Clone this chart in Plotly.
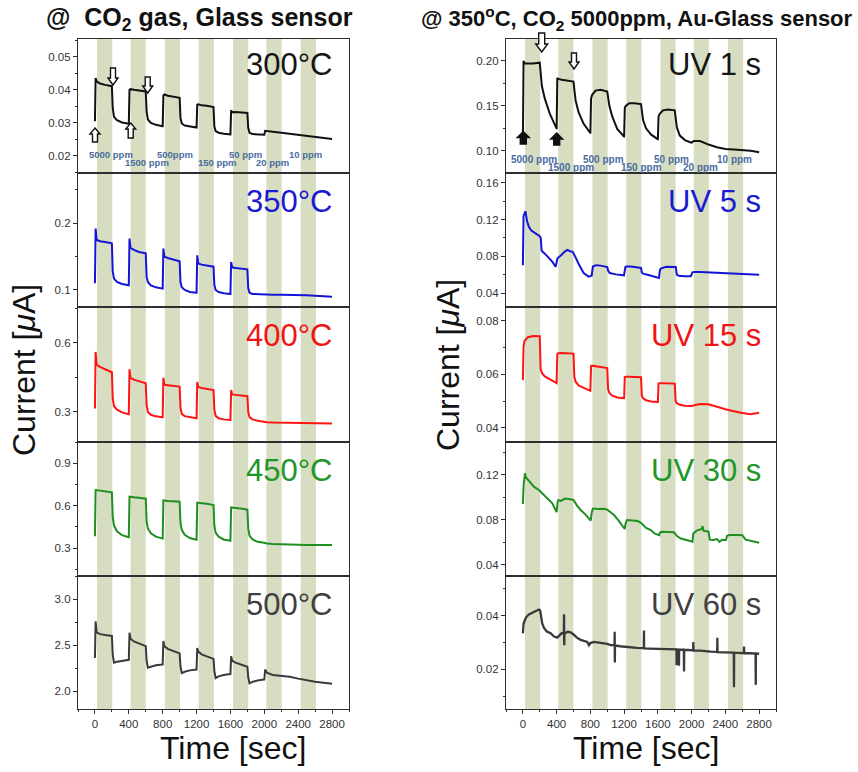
import plotly.graph_objects as go

# ---------------- data ----------------
# gas-on periods (green bands), seconds
band_start = [25, 420, 825, 1225, 1630, 2025, 2430]
band_end = [205, 600, 1005, 1405, 1810, 2205, 2610]

# shared time grid for square-wave responses (s)
t_grid = [
    0, 8, 20, 60, 120, 200, 210, 225, 260, 320, 398,
    400, 408, 420, 460, 520, 600, 610, 625, 660, 720, 798,
    800, 808, 820, 860, 920, 1000, 1010, 1025, 1060, 1120, 1198,
    1200, 1208, 1220, 1260, 1320, 1400, 1410, 1425, 1460, 1520, 1598,
    1600, 1608, 1620, 1660, 1720, 1800, 1810, 1825, 1860, 1920, 1998,
    2000, 2010, 2030, 2100, 2200, 2300, 2400, 2500, 2600, 2700, 2800]

i_300C = [
    0.0305, 0.0436, 0.0426, 0.0419, 0.0415, 0.0411, 0.0345, 0.0318, 0.0308, 0.0301, 0.0297,
    0.0297, 0.0400, 0.0402, 0.0400, 0.0398, 0.0395, 0.0335, 0.0310, 0.0300, 0.0294, 0.0290,
    0.0290, 0.0383, 0.0386, 0.0382, 0.0379, 0.0376, 0.0315, 0.0298, 0.0292, 0.0289, 0.0286,
    0.0286, 0.0355, 0.0356, 0.0353, 0.0352, 0.0348, 0.0290, 0.0275, 0.0270, 0.0267, 0.0265,
    0.0265, 0.0338, 0.0332, 0.0333, 0.0332, 0.0330, 0.0285, 0.0270, 0.0266, 0.0265, 0.0264,
    0.0264, 0.0276, 0.0275, 0.0273, 0.0270, 0.0267, 0.0264, 0.0261, 0.0258, 0.0255, 0.0251]

i_350C = [
    0.110, 0.192, 0.175, 0.173, 0.172, 0.170, 0.128, 0.117, 0.112, 0.109, 0.107,
    0.107, 0.177, 0.163, 0.160, 0.157, 0.155, 0.120, 0.112, 0.107, 0.104, 0.102,
    0.102, 0.162, 0.150, 0.148, 0.146, 0.143, 0.112, 0.104, 0.100, 0.097, 0.096,
    0.096, 0.152, 0.140, 0.138, 0.137, 0.135, 0.108, 0.100, 0.097, 0.095, 0.094,
    0.094, 0.142, 0.134, 0.133, 0.132, 0.131, 0.103, 0.096, 0.094, 0.0935, 0.093,
    0.093, 0.093, 0.093, 0.093, 0.093, 0.093, 0.0928, 0.0922, 0.0915, 0.0908, 0.090]

i_400C = [
    0.315, 0.560, 0.505, 0.495, 0.485, 0.472, 0.360, 0.325, 0.310, 0.298, 0.290,
    0.290, 0.485, 0.447, 0.440, 0.432, 0.424, 0.330, 0.300, 0.288, 0.281, 0.277,
    0.277, 0.448, 0.418, 0.416, 0.414, 0.410, 0.320, 0.292, 0.282, 0.277, 0.273,
    0.273, 0.430, 0.408, 0.404, 0.400, 0.395, 0.310, 0.283, 0.273, 0.268, 0.265,
    0.265, 0.395, 0.376, 0.374, 0.372, 0.368, 0.300, 0.278, 0.268, 0.262, 0.258,
    0.258, 0.257, 0.256, 0.254, 0.253, 0.252, 0.252, 0.252, 0.252, 0.251, 0.250]

i_450C = [
    0.385, 0.715, 0.710, 0.706, 0.703, 0.695, 0.520, 0.460, 0.420, 0.392, 0.378,
    0.378, 0.664, 0.662, 0.660, 0.657, 0.650, 0.490, 0.440, 0.405, 0.382, 0.368,
    0.368, 0.638, 0.636, 0.634, 0.632, 0.628, 0.480, 0.430, 0.395, 0.372, 0.360,
    0.360, 0.622, 0.620, 0.618, 0.614, 0.605, 0.460, 0.410, 0.382, 0.362, 0.353,
    0.353, 0.588, 0.586, 0.584, 0.580, 0.572, 0.440, 0.390, 0.362, 0.345, 0.338,
    0.338, 0.336, 0.334, 0.330, 0.327, 0.325, 0.323, 0.322, 0.322, 0.322, 0.322]

i_500C = [
    2.36, 2.76, 2.64, 2.62, 2.61, 2.60, 2.40, 2.31, 2.32, 2.33, 2.34,
    2.34, 2.635, 2.57, 2.54, 2.52, 2.49, 2.33, 2.255, 2.265, 2.28, 2.29,
    2.29, 2.545, 2.49, 2.46, 2.44, 2.41, 2.27, 2.195, 2.21, 2.225, 2.235,
    2.235, 2.47, 2.43, 2.40, 2.38, 2.35, 2.22, 2.14, 2.16, 2.175, 2.185,
    2.185, 2.38, 2.33, 2.31, 2.29, 2.265, 2.15, 2.085, 2.10, 2.115, 2.125,
    2.125, 2.235, 2.20, 2.175, 2.165, 2.155, 2.135, 2.115, 2.10, 2.09, 2.08]

i_uv1 = [
    0.110, 0.200, 0.197, 0.197, 0.197, 0.198, 0.190, 0.172, 0.158, 0.141, 0.125,
    0.125, 0.181, 0.180, 0.179, 0.178, 0.177, 0.168, 0.156, 0.143, 0.130, 0.120,
    0.120, 0.158, 0.162, 0.167, 0.168, 0.166, 0.158, 0.150, 0.138, 0.124, 0.116,
    0.116, 0.148, 0.150, 0.153, 0.153, 0.152, 0.142, 0.134, 0.125, 0.118, 0.113,
    0.113, 0.138, 0.141, 0.145, 0.146, 0.145, 0.135, 0.126, 0.117, 0.112, 0.109,
    0.109, 0.110, 0.111, 0.111, 0.107, 0.104, 0.102, 0.1015, 0.101, 0.100, 0.0985]

i_uv15 = [
    0.0578, 0.0703, 0.0725, 0.0738, 0.0743, 0.0742, 0.0620, 0.0605, 0.0592, 0.0580, 0.0567,
    0.0567, 0.0675, 0.0678, 0.0679, 0.0678, 0.0677, 0.0590, 0.0572, 0.0558, 0.0548, 0.0538,
    0.0538, 0.0630, 0.0632, 0.0630, 0.0628, 0.0623, 0.0545, 0.0530, 0.0520, 0.0513, 0.0510,
    0.0510, 0.0590, 0.0591, 0.0591, 0.0590, 0.0589, 0.0520, 0.0510, 0.0503, 0.0498, 0.0496,
    0.0496, 0.0565, 0.0566, 0.0566, 0.0566, 0.0565, 0.0500, 0.0492, 0.0486, 0.0482, 0.0481,
    0.0481, 0.0482, 0.0484, 0.0489, 0.0488, 0.0478, 0.0469, 0.0462, 0.0455, 0.0451, 0.0456]

t_uv5 = [0, 8, 30, 50, 71, 100, 150, 200, 212, 222, 260, 300, 350, 388,
         400, 410, 450, 500, 530, 560, 590, 610, 625, 660, 720, 780,
         800, 815, 830, 870, 920, 980, 1000, 1010, 1030, 1100, 1160, 1198,
         1215, 1225, 1280, 1350, 1400, 1410, 1430, 1480, 1550, 1612,
         1625, 1640, 1700, 1780, 1812, 1825, 1850, 1920, 1990,
         2010, 2030, 2100, 2200, 2400, 2600, 2800]
i_uv5 = [0.0705, 0.124, 0.129, 0.118, 0.112, 0.108, 0.105, 0.102, 0.100, 0.086, 0.083, 0.079, 0.074, 0.0687,
         0.0765, 0.078, 0.081, 0.0855, 0.087, 0.0855, 0.085, 0.082, 0.079, 0.072, 0.062, 0.058,
         0.0585, 0.059, 0.069, 0.0705, 0.070, 0.069, 0.0685, 0.0645, 0.062, 0.0605, 0.060, 0.0595,
         0.0685, 0.069, 0.069, 0.068, 0.0675, 0.0625, 0.061, 0.060, 0.058, 0.0565,
         0.0655, 0.067, 0.0688, 0.0688, 0.0685, 0.060, 0.059, 0.0585, 0.0585,
         0.0628, 0.0632, 0.063, 0.0625, 0.0615, 0.0608, 0.060]

t_uv30 = [0, 10, 25, 35, 70, 130, 190, 270, 349, 380, 400,
          410, 420, 450, 500, 560, 600, 640, 685, 740, 804,
          815, 830, 900, 960, 1000, 1040, 1080, 1140, 1207,
          1220, 1235, 1300, 1360, 1400, 1460, 1516, 1560, 1615,
          1625, 1640, 1700, 1790, 1830, 1872, 1950, 2010,
          2020, 2060, 2120, 2130, 2140, 2200, 2215, 2260, 2300, 2330, 2360, 2407,
          2420, 2450, 2550, 2600, 2640, 2700, 2760, 2800]
i_uv30 = [0.0942, 0.112, 0.1215, 0.118, 0.1150, 0.1096, 0.1067, 0.1007, 0.0948, 0.090, 0.0870,
          0.095, 0.0978, 0.097, 0.099, 0.0985, 0.0978, 0.093, 0.0889, 0.085, 0.0795,
          0.086, 0.0902, 0.0898, 0.090, 0.0892, 0.0865, 0.0844, 0.079, 0.0720,
          0.0775, 0.080, 0.0795, 0.079, 0.0775, 0.073, 0.0711, 0.068, 0.0665,
          0.0685, 0.0696, 0.0695, 0.069, 0.0655, 0.0635, 0.062, 0.0607,
          0.068, 0.0705, 0.072, 0.0745, 0.0705, 0.0696, 0.0625, 0.0622, 0.063, 0.0605, 0.0625, 0.0622,
          0.066, 0.0667, 0.0667, 0.0665, 0.0625, 0.0615, 0.0605, 0.0598]

t_uv60 = [0, 8, 20, 40, 71, 100, 130, 160, 190, 205, 215, 230, 249, 280, 328, 370, 407, 430, 460,
          485, 488, 490, 493, 530, 565, 600, 640, 684, 720, 763, 783, 800, 842, 900, 961, 1000, 1040,
          1086, 1088, 1090, 1092, 1150, 1198, 1250, 1300, 1350, 1433, 1435, 1437, 1500, 1593, 1650, 1700,
          1780, 1820, 1822, 1824, 1848, 1850, 1852, 1908, 1910, 1912, 1960, 2018, 2020, 2022, 2100, 2147,
          2226, 2303, 2305, 2307, 2384, 2450, 2500, 2502, 2504, 2560, 2619, 2621, 2623, 2700, 2758, 2760, 2762, 2800]
i_uv60 = [0.0334, 0.0370, 0.0380, 0.0395, 0.0405, 0.0410, 0.0414, 0.0418, 0.0423, 0.0420, 0.0395, 0.0370, 0.0355, 0.0342, 0.0335, 0.0322, 0.0318, 0.0325, 0.0335,
          0.0332, 0.0405, 0.0290, 0.0333, 0.0340, 0.0338, 0.0330, 0.0318, 0.0310, 0.0305, 0.0302, 0.0290, 0.0298, 0.0302, 0.0300, 0.0298, 0.0295, 0.0290,
          0.0290, 0.0340, 0.0225, 0.0289, 0.0286, 0.0284, 0.0283, 0.0281, 0.0280, 0.0279, 0.0345, 0.0278, 0.0277, 0.0276, 0.0275, 0.0274,
          0.0275, 0.0274, 0.0215, 0.0274, 0.0273, 0.0213, 0.0273, 0.0273, 0.0192, 0.0272, 0.0272, 0.0271, 0.0302, 0.0270, 0.0270, 0.0268,
          0.0266, 0.0265, 0.0318, 0.0264, 0.0263, 0.0262, 0.0262, 0.0133, 0.0262, 0.0261, 0.0260, 0.0285, 0.0260, 0.0260, 0.0259, 0.0142, 0.0259, 0.0258]

panel_labels_left = ["300°C", "350°C", "400°C", "450°C", "500°C"]
panel_labels_right = ["UV 1 s", "UV 5 s", "UV 15 s", "UV 30 s", "UV 60 s"]
ppm_left = ["5000 ppm", "1500 ppm", "500ppm", "150 ppm", "50 ppm", "20 ppm", "10 ppm"]
ppm_right = ["5000 ppm", "1500 ppm", "500 ppm", "150 ppm", "50 ppm", "20 ppm", "10 ppm"]

x_ticks = [0, 400, 800, 1200, 1600, 2000, 2400, 2800]

for a, b in [(t_uv5, i_uv5), (t_uv30, i_uv30), (t_uv60, i_uv60)]:
    assert len(a) == len(b)
for s in [i_300C, i_350C, i_400C, i_450C, i_500C, i_uv1, i_uv15]:
    assert len(s) == len(t_grid)

# ---------------- styling / layout ----------------
W, H = 858, 772
FONT = "Liberation Sans, Arial, sans-serif"
BAND = "#d7ddc1"
AXC = "#2e2e2e"


def pxx(x):
    return x / W


def pxy(y):
    return 1 - y / H


col_x = [(78, 349), (506, 776)]
row_y = [(39, 173), (173, 307), (307, 442), (442, 576), (576, 709)]

series = [
    (t_grid, i_300C, "#111111", 2.0),
    (t_grid, i_350C, "#1414d8", 2.0),
    (t_grid, i_400C, "#ff1414", 2.0),
    (t_grid, i_450C, "#1f8f1f", 2.0),
    (t_grid, i_500C, "#3a3a3a", 2.0),
    (t_grid, i_uv1, "#111111", 2.0),
    (t_uv5, i_uv5, "#1414d8", 2.0),
    (t_grid, i_uv15, "#ff1414", 2.0),
    (t_uv30, i_uv30, "#1f8f1f", 2.0),
    (t_uv60, i_uv60, "#3a3a3a", 2.3),
]
label_colors = ["#151515", "#1a1ad0", "#f01414", "#22962a", "#404040"]

# y-axis ranges, major dtick, minor dtick, format
yspec = [
    ([0.0148, 0.0554], 0.01, 0.005, ".2f"),
    ([0.0745, 0.2754], 0.1, 0.05, ".1f"),
    ([0.170, 0.7545], 0.3, 0.15, ".1f"),
    ([0.104, 1.050], 0.3, 0.15, ".1f"),
    ([1.804, 3.254], 0.5, 0.25, ".1f"),
    ([0.0754, 0.2243], 0.05, 0.025, ".2f"),
    ([0.0251, 0.1705], 0.04, 0.02, ".2f"),
    ([0.0347, 0.0851], 0.02, 0.01, ".2f"),
    ([0.0302, 0.1493], 0.04, 0.02, ".2f"),
    ([0.0052, 0.0548], 0.02, 0.01, ".2f"),
]

fig = go.Figure()
layout = dict(
    width=W, height=H, margin=dict(l=0, r=0, t=0, b=0),
    paper_bgcolor="white", plot_bgcolor="white", showlegend=False,
    font=dict(family=FONT, color="#222"),
)
shapes = []
annotations = []

for i in range(10):
    col, row = divmod(i, 5)
    n = i + 1
    xname = "x" if n == 1 else f"x{n}"
    yname = "y" if n == 1 else f"y{n}"
    t, v, c, w = series[i]
    fig.add_trace(go.Scatter(x=t, y=v, mode="lines", line=dict(color=c, width=w),
                             xaxis=xname, yaxis=yname, hoverinfo="skip"))
    bottom = row == 4
    xa = dict(domain=[pxx(col_x[col][0]), pxx(col_x[col][1])], range=[-200, 3000],
              anchor=yname, showline=True, mirror=True, linecolor=AXC, linewidth=1.3,
              showgrid=False, zeroline=False, tickmode="array", tickvals=x_ticks,
              ticks="outside" if bottom else "", ticklen=4, tickcolor=AXC,
              showticklabels=bottom, tickfont=dict(size=11.5, color="#333", family=FONT))
    if bottom:
        xa["minor"] = dict(ticks="outside", ticklen=2, tickcolor=AXC, dtick=200, tick0=0)
    rng, dt, mdt, fmt = yspec[i]
    ya = dict(domain=[pxy(row_y[row][1]), pxy(row_y[row][0])], range=rng, anchor=xname,
              showline=True, mirror=True, linecolor=AXC, linewidth=1.3, showgrid=False,
              zeroline=False, tick0=0, dtick=dt, tickformat=fmt, ticks="outside", ticklen=4,
              tickcolor=AXC, tickfont=dict(size=11.5, color="#333", family=FONT),
              minor=dict(ticks="outside", ticklen=2, tickcolor=AXC, dtick=mdt, tick0=0))
    layout["xaxis" if n == 1 else f"xaxis{n}"] = xa
    layout["yaxis" if n == 1 else f"yaxis{n}"] = ya
    for s, e in zip(band_start, band_end):
        shapes.append(dict(type="rect", xref=xname, yref=f"{yname} domain", x0=s, x1=e,
                           y0=0, y1=1, fillcolor=BAND, line=dict(width=0), layer="below"))
    # panel label
    txt = (panel_labels_left if col == 0 else panel_labels_right)[row]
    lx = 335 if col == 0 else 763
    ly = row_y[row][0] + (26 if row == 0 else 28)
    annotations.append(dict(text=txt, x=pxx(lx), y=pxy(ly), xref="paper", yref="paper",
                            xanchor="right", yanchor="middle", showarrow=False,
                            font=dict(size=31, color=label_colors[row], family=FONT)))

# ppm labels
ppm_pos_left = [(110.5, 154), (147, 163), (175, 154), (217.5, 163), (245, 154), (272.5, 163), (305.5, 154)]
ppm_pos_right = [(534, 160), (571, 167.5), (603.5, 160), (641, 167.5), (671.5, 160), (700, 167.5), (734.5, 160)]
for labels, pos, fs in [(ppm_left, ppm_pos_left, 9.5), (ppm_right, ppm_pos_right, 10)]:
    for txt, (x, y) in zip(labels, pos):
        annotations.append(dict(text=f"<b>{txt}</b>", x=pxx(x), y=pxy(y), xref="paper", yref="paper",
                                xanchor="center", yanchor="middle", showarrow=False,
                                font=dict(size=fs, color="#4b6c9e", family=FONT)))

# titles
annotations.append(dict(text="<b>@  CO<sub>2</sub> gas, Glass sensor</b>", x=pxx(199), y=pxy(19),
                        xref="paper", yref="paper", xanchor="center", yanchor="middle",
                        showarrow=False, font=dict(size=25, color="#111", family=FONT)))
annotations.append(dict(text="<b>@ 350<sup>o</sup>C, CO<sub>2</sub> 5000ppm, Au-Glass sensor</b>",
                        x=pxx(637), y=pxy(19), xref="paper", yref="paper", xanchor="center",
                        yanchor="middle", showarrow=False,
                        font=dict(size=22, color="#111", family=FONT)))
for x, y in [(24, 370), (448, 365)]:
    annotations.append(dict(text="Current [<i>μ</i>A]", x=pxx(x), y=pxy(y), xref="paper",
                            yref="paper", textangle=-90, xanchor="center", yanchor="middle",
                            showarrow=False, font=dict(size=32, color="#111", family=FONT)))
for x in [233, 646]:
    annotations.append(dict(text="Time [sec]", x=pxx(x), y=pxy(748), xref="paper",
                            yref="paper", xanchor="center", yanchor="middle",
                            showarrow=False, font=dict(size=32, color="#111", family=FONT)))


# block arrows (tip position in pixels, pointing up or down)
def block_arrow(x, tip_y, up, filled, length, head_w, shaft_w, head_h):
    s = 1 if up else -1
    hw, sw = head_w / 2, shaft_w / 2
    pts = [(0, 0), (hw, -s * head_h), (sw, -s * head_h), (sw, -s * length),
           (-sw, -s * length), (-sw, -s * head_h), (-hw, -s * head_h)]
    path = "M" + " L".join(f"{a:.1f},{b:.1f}" for a, b in pts) + " Z"
    return dict(type="path", xref="paper", yref="paper", xsizemode="pixel", ysizemode="pixel",
                xanchor=pxx(x), yanchor=pxy(tip_y), path=path,
                fillcolor="#111" if filled else "white",
                line=dict(color="#111", width=1.4), layer="above")


arrows = [
    (95, 128, True, False, 14, 10, 5, 6),
    (113, 85, False, False, 17, 10, 5, 7),
    (130.7, 123, True, False, 15, 10, 5, 6),
    (147.7, 93, False, False, 16, 10, 5, 7),
    (523.3, 131.5, True, True, 12.5, 12, 6, 6),
    (541.7, 52, False, False, 19, 12, 6, 8),
    (556.7, 133, True, True, 12, 12, 6, 6),
    (574, 69, False, False, 16, 10, 5, 7),
]
for a in arrows:
    shapes.append(block_arrow(*a))

layout["shapes"] = shapes
layout["annotations"] = annotations
fig.update_layout(**layout)
fig.write_html("out.html")
